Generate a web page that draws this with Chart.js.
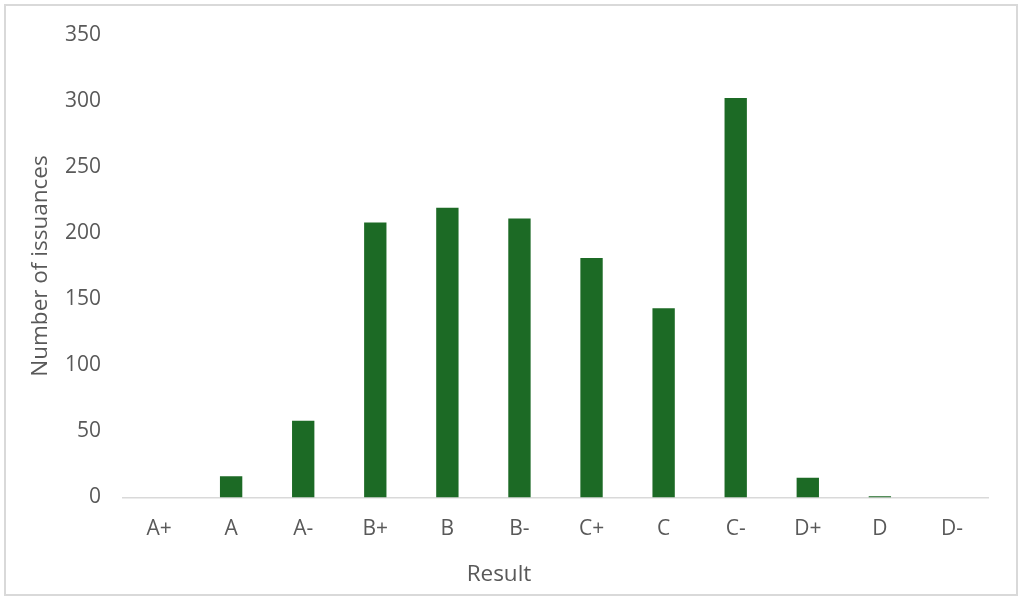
<!DOCTYPE html>
<html>
<head>
<meta charset="utf-8">
<script src="https://cdn.jsdelivr.net/npm/chart.js@4/dist/chart.umd.min.js"></script>
<style>
  html, body { margin: 0; padding: 0; background: #fff; }
  #wrap { position: relative; width: 1024px; height: 602px; }
  #frame { position: absolute; left: 4px; top: 4px; width: 1014px; height: 592px; border: 2px solid #d9d9d9; box-sizing: border-box; }
  canvas { position: absolute; left: 0; top: 0; }
</style>
</head>
<body>
<div id="wrap">
  <div id="frame"></div>
  <canvas id="gradesChart" width="1024" height="602"></canvas>
</div>
<script>
const grades = ['A+', 'A', 'A-', 'B+', 'B', 'B-', 'C+', 'C', 'C-', 'D+', 'D', 'D-'];
const issuances = [0, 16, 58, 208, 219, 211, 181, 143, 302, 15, 1, 0];
const yTicks = [0, 50, 100, 150, 200, 250, 300, 350];

const textColor = '#595959';
const font = 'Open Sans';

new Chart(document.getElementById('gradesChart'), {
  type: 'bar',
  data: {
    labels: grades,
    datasets: [{
      label: 'Number of issuances',
      data: issuances,
      backgroundColor: '#1c6a25',
      borderWidth: 0,
      categoryPercentage: 1,
      barPercentage: 0.31,
    }],
  },
  options: {
    responsive: false,
    animation: false,
    layout: { padding: { top: 32, right: 36, bottom: 0, left: 10 } },
    plugins: {
      legend: { display: false },
      tooltip: { enabled: false },
      // x title centred on the whole chart, like the original
      title: {
        display: true,
        position: 'bottom',
        text: 'Result',
        color: textColor,
        font: { family: font, size: 22.5, weight: 'normal' },
        padding: { top: 0, bottom: 13.5 },
      },
    },
    scales: {
      x: {
        grid: { display: false, drawTicks: false },
        border: { display: true, color: '#d9d9d9', width: 1.5 },
        ticks: { color: textColor, font: { family: font, size: 21 }, padding: 19 },
        afterFit: (s) => { s.height = 602 - 497.5 - 40.5; },
      },
      y: {
        min: 0,
        max: 350,
        grid: { display: false, drawTicks: false },
        border: { display: false },
        afterBuildTicks: (s) => { s.ticks = yTicks.map((v) => ({ value: v })); },
        ticks: { color: textColor, font: { family: font, size: 21 }, padding: 22 },
        title: { display: true, text: 'Number of issuances', color: textColor, font: { family: font, size: 22.5 }, padding: { top: 17, bottom: 0 } },
        afterFit: (s) => { s.width = 113; },
      },
    },
  },
});
</script>
</body>
</html>
